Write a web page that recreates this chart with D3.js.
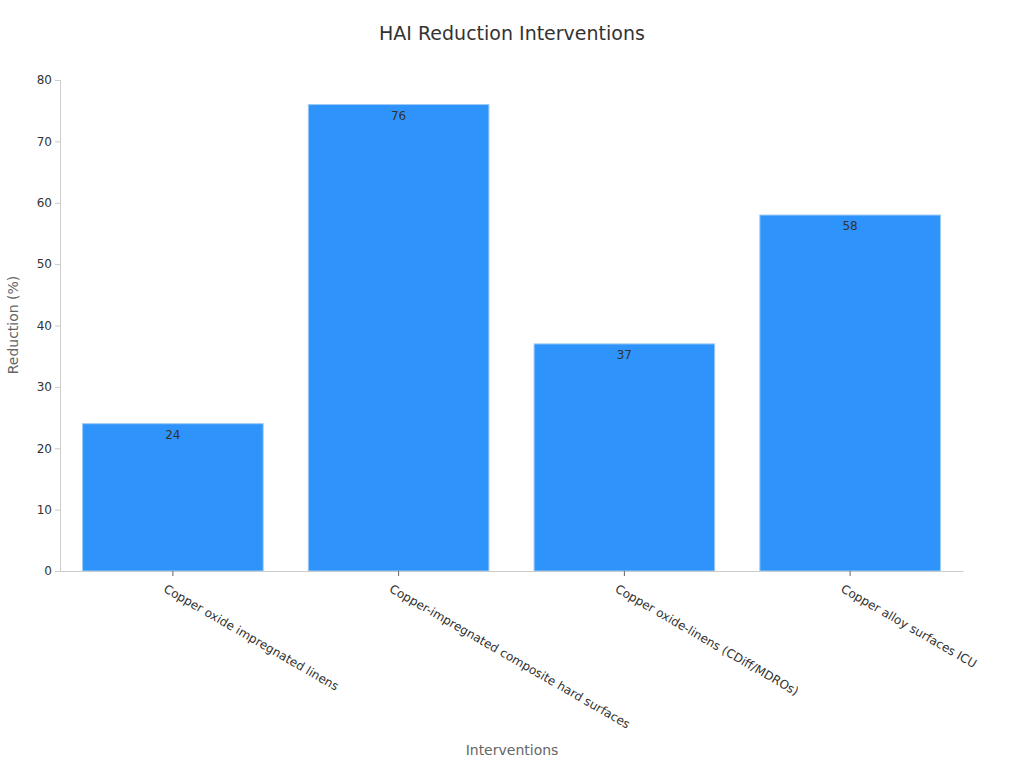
<!DOCTYPE html>
<html><head><meta charset="utf-8">
<script src="https://cdn.jsdelivr.net/npm/d3@7"></script>
<style>body{margin:0;background:#fff;font-family:"DejaVu Sans",sans-serif;}</style>
</head><body><svg id="chart" width="1024" height="768"></svg>
<script>
var categories = ["Copper oxide impregnated linens", "Copper-impregnated composite hard surfaces", "Copper oxide-linens (CDiff/MDROs)", "Copper alloy surfaces ICU"]
var values = [24, 76, 37, 58]
var yTicks = [0, 10, 20, 30, 40, 50, 60, 70, 80]

var margin = {top: 80, right: 61, bottom: 197, left: 60},
    width = 1024 - margin.left - margin.right,
    height = 768 - margin.top - margin.bottom;
var svg = d3.select("#chart")
var g = svg.append("g").attr("transform", "translate(" + margin.left + "," + margin.top + ")");

var x = d3.scaleBand().domain(categories).range([0, width]).paddingInner(0.2).paddingOuter(0.1);
var y = d3.scaleLinear().domain([0, 80]).range([height, 0]);

// title
svg.append("text").attr("x", 512).attr("y", 40).attr("text-anchor", "middle")
  .attr("font-size", 19).attr("fill", "#333").text("HAI Reduction Interventions");

// bars
g.selectAll(".bar").data(values).enter().append("rect")
  .attr("x", function(d, i) { return x(categories[i]) })
  .attr("y", function(d) { return y(d) })
  .attr("width", x.bandwidth())
  .attr("height", function(d) { return height - y(d) })
  .attr("fill", "#2e93fa").attr("stroke", "#9ccaf8").attr("stroke-width", 1);

g.selectAll(".lbl").data(values).enter().append("text")
  .attr("x", function(d, i) { return x(categories[i]) + x.bandwidth() / 2 })
  .attr("y", function(d) { return y(d) + 15 })
  .attr("text-anchor", "middle").attr("font-size", 12).attr("fill", "#333")
  .text(function(d) { return d });

// axes
var yAxis = g.append("g").call(d3.axisLeft(y).tickValues(yTicks).tickSize(5));
yAxis.selectAll("text").attr("font-size", 12).attr("fill", "#333").attr("font-family", "DejaVu Sans");
yAxis.selectAll("line,path").attr("stroke", "#ccc");

var xAxis = g.append("g").attr("transform", "translate(0," + height + ")")
  .call(d3.axisBottom(x).tickSize(5).tickSizeOuter(0));
xAxis.selectAll("line,path").attr("stroke", "#ccc");
xAxis.selectAll("line").attr("stroke", "#666");
xAxis.selectAll("text").attr("font-size", 12).attr("fill", "#333").attr("font-family", "DejaVu Sans")
  .attr("text-anchor", "start").attr("transform", "translate(-2,6) rotate(30)").attr("dy", "0.7em").attr("y", 8);

// axis titles
svg.append("text").attr("x", 512).attr("y", 755).attr("text-anchor", "middle")
  .attr("font-size", 14).attr("fill", "#666").text("Interventions");
svg.append("text").attr("transform", "translate(18,325) rotate(-90)").attr("text-anchor", "middle")
  .attr("font-size", 14).attr("fill", "#666").text("Reduction (%)");
</script></body></html>
